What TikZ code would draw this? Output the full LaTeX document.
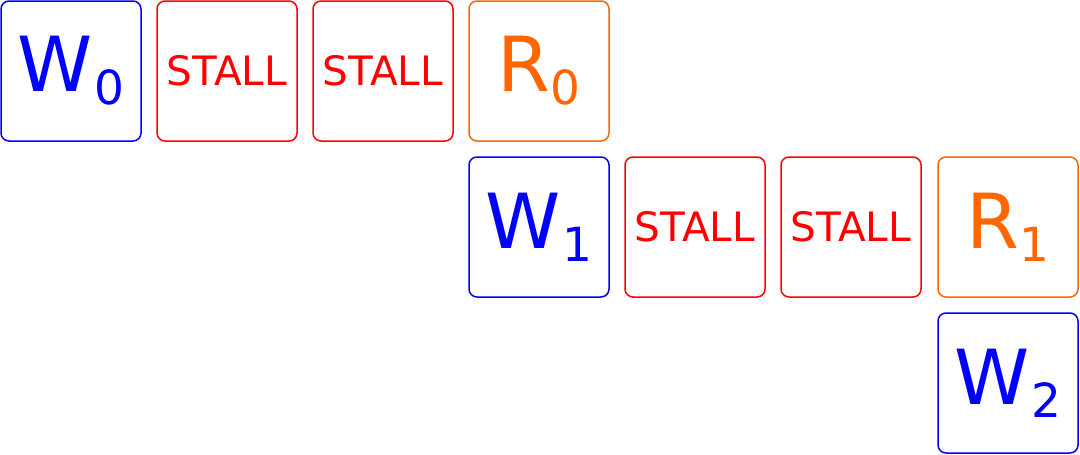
\documentclass[tikz,border=0pt]{standalone}
\usepackage{fontspec}
\setmainfont{DejaVu Sans}
\definecolor{wblue}{HTML}{0000FF}
\definecolor{sred}{HTML}{FF0000}
\definecolor{rorange}{HTML}{FF6600}
\newcommand{\bigop}[2]{\fontsize{76}{76}\selectfont #1\kern 1pt\raisebox{-13pt}{\fontsize{47}{47}\selectfont #2}}
\begin{document}
\begin{tikzpicture}[x=1pt,y=-1pt,
  cell/.style={draw, rounded corners=8pt, line width=1.5pt, minimum width=140pt, minimum height=140pt, inner sep=0pt, align=center},
  wcell/.style={cell, draw=wblue, text=wblue},
  scell/.style={cell, draw=sred, text=sred, font=\fontsize{40.5}{40.5}\selectfont},
  rcell/.style={cell, draw=rorange, text=rorange}]
\useasboundingbox (0,0) rectangle (1080,455);
\node[wcell] (w0) at (71,71) {\bigop{W}{0}};
\node[scell] (s0a) at (227,71) {STALL};
\node[scell] (s0b) at (383,71) {STALL};
\node[rcell] (r0) at (539,71) {\bigop{R}{0}};
\node[wcell] (w1) at (539,227) {\bigop{W}{1}};
\node[scell] (s1a) at (695,227) {STALL};
\node[scell] (s1b) at (851,227) {STALL};
\node[rcell] (r1) at (1008,227) {\bigop{R}{1}};
\node[wcell] (w2) at (1008,383) {\bigop{W}{2}};
\end{tikzpicture}
\end{document}
